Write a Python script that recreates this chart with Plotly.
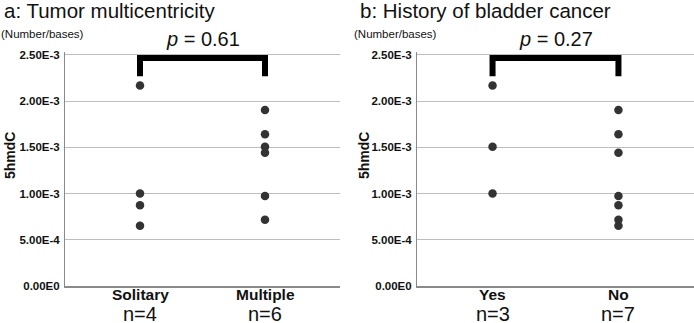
import plotly.graph_objects as go

# ---- data ----
panel_titles = ["a: Tumor multicentricity", "b: History of bladder cancer"]
cats_a = ["Solitary", "Multiple"]
cats_b = ["Yes", "No"]
n_a = ["n=4", "n=6"]
n_b = ["n=3", "n=7"]
solitary = [2.17e-3, 1.00e-3, 0.875e-3, 0.652e-3]
multiple = [1.905e-3, 1.642e-3, 1.508e-3, 1.443e-3, 0.974e-3, 0.718e-3]
yes_vals = [2.17e-3, 1.508e-3, 1.00e-3]
no_vals = [1.905e-3, 1.642e-3, 1.443e-3, 0.974e-3, 0.875e-3, 0.718e-3, 0.652e-3]
p_texts = ["0.61", "0.27"]
y_tickvals = [0, 0.5e-3, 1.0e-3, 1.5e-3, 2.0e-3, 2.5e-3]
y_ticktext = ["0.00E0", "5.00E-4", "1.00E-3", "1.50E-3", "2.00E-3", "2.50E-3"]
bracket_top = 2.468e-3
bracket_leg = 2.27e-3

FONT = "Liberation Sans, Arial, sans-serif"
W, H = 694, 323


def py(p):
    return (H - p) / H


def px(p):
    return p / W


ydom = [py(286), py(52)]
xdoms = [[px(65), px(340)], [px(417), 1.0]]
yrange = [0, 2.532e-3]

fig = go.Figure()
panels = [(cats_a, [solitary, multiple], n_a), (cats_b, [yes_vals, no_vals], n_b)]
for i, (cats, vals, ns) in enumerate(panels):
    xa = "x" if i == 0 else "x2"
    ya = "y" if i == 0 else "y2"
    for ci, v in enumerate(vals):
        fig.add_trace(go.Scatter(
            x=[ci] * len(v), y=v, mode="markers", xaxis=xa, yaxis=ya,
            marker=dict(size=8.5, color="#333333"), showlegend=False, cliponaxis=False))
    sfx = "" if i == 0 else str(i + 1)
    fig.update_layout(**{
        "xaxis" + sfx: dict(domain=xdoms[i], range=[-0.6, 1.6], anchor=ya,
                            showticklabels=False, automargin=False,
                            showgrid=False, zeroline=False, showline=True,
                            linecolor="#8a8a8a", linewidth=1.5, ticks="", fixedrange=True),
        "yaxis" + sfx: dict(domain=ydom, range=yrange, anchor=xa, automargin=False,
                            tickmode="array", tickvals=y_tickvals, ticktext=["<b>%s</b>" % t for t in y_ticktext],
                            tickfont=dict(size=11.5, color="#111", family=FONT),
                            showgrid=True, gridcolor="#bdbdbd", gridwidth=1,
                            zeroline=False, showline=True, linecolor="#8a8a8a", linewidth=1,
                            ticks="", ticklabelstandoff=2),
    })
    # category names and n labels
    for ci, (c, nt) in enumerate(zip(cats, ns)):
        fig.add_annotation(x=ci, y=py(294), xref=xa, yref="paper", text="<b>%s</b>" % c,
                           showarrow=False, yanchor="middle",
                           font=dict(size=15.5, color="#111", family=FONT))
        fig.add_annotation(x=ci, y=py(314), xref=xa, yref="paper", text=nt, showarrow=False,
                           yanchor="middle", font=dict(size=20, color="#111", family=FONT))
    # bracket
    fig.add_shape(type="path", xref=xa, yref=ya,
                  path="M 0 %g L 0 %g L 1 %g L 1 %g" % (bracket_leg, bracket_top, bracket_top, bracket_leg),
                  line=dict(color="black", width=6))
    fig.add_annotation(x=0.5, y=py(39), xref=xa, yref="paper", yanchor="middle",
                       text="<i>p</i> = " + p_texts[i], showarrow=False,
                       font=dict(size=20, color="#111", family=FONT))
    # panel title
    fig.add_annotation(x=[px(2), px(358)][i], y=py(10), xref="paper", yref="paper",
                       xanchor="left", yanchor="middle", text=panel_titles[i], showarrow=False,
                       font=dict(size=20.5, color="#111", family=FONT))
    fig.add_annotation(x=[px(-1), px(352)][i], y=py(34), xref="paper", yref="paper",
                       xanchor="left", yanchor="middle", text="(Number/bases)", showarrow=False,
                       font=dict(size=11.5, color="#111", family=FONT))
    fig.add_annotation(x=[px(10), px(364)][i], y=py(156), xref="paper", yref="paper",
                       xanchor="center", yanchor="middle", text="<b>5hmdC</b>", textangle=-90,
                       showarrow=False, font=dict(size=14, color="#111", family=FONT))

fig.update_layout(width=W, height=H, margin=dict(l=0, r=0, t=0, b=0),
                  paper_bgcolor="white", plot_bgcolor="white", font=dict(family=FONT))
fig.write_html("out.html", config={"displayModeBar": False},
               post_script="document.body.style.margin='0';document.body.style.overflow='hidden';")
